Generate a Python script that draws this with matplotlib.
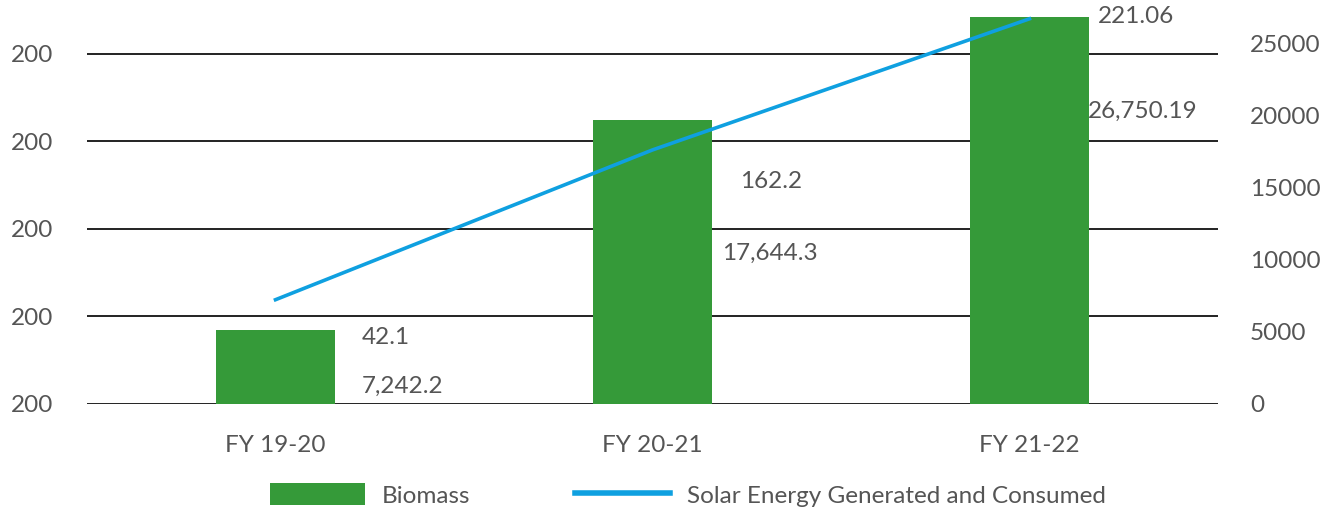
import matplotlib
matplotlib.use("Agg")
import matplotlib.pyplot as plt
from matplotlib.patches import Patch
from matplotlib.lines import Line2D

plt.rcParams['font.family'] = ['Lato', 'DejaVu Sans']

# Data
years = ["FY 19-20", "FY 20-21", "FY 21-22"]
biomass = [42.1, 162.2, 221.06]
solar = [7242.2, 17644.3, 26750.19]
biomass_labels = ["42.1", "162.2", "221.06"]
solar_labels = ["7,242.2", "17,644.3", "26,750.19"]
left_ticks = [0, 50, 100, 150, 200]
left_tick_labels = ["200", "200", "200", "200", "200"]
right_ticks = [0, 5000, 10000, 15000, 20000, 25000]

GREEN = "#359a39"
BLUE = "#0fa0e0"
TEXT = "#555555"
FS = 17.5

fig = plt.figure(figsize=(13.38, 5.13), dpi=100)
ax = fig.add_axes([87 / 1338, 109 / 513, 1131 / 1338, 396 / 513])
ax2 = ax.twinx()

x = list(range(len(years)))

# Biomass bars on the left axis
ax.bar(x, biomass, width=0.318, color=GREEN, zorder=3, clip_on=False)
ax.set_xlim(-0.5, 2.5)
ax.set_ylim(0, 226)
ax.set_yticks(left_ticks)
ax.set_yticklabels(left_tick_labels)
ax.yaxis.grid(True, color="#111111", linewidth=1.3, zorder=0)
ax.set_axisbelow(True)
ax.set_xticks(x)
ax.set_xticklabels(years)
ax.tick_params(axis="both", length=0, labelsize=FS, labelcolor=TEXT)
ax.tick_params(axis="y", pad=24)
ax.tick_params(axis="x", pad=22)

# Solar line on the right axis
ax2.plot(x, solar, color=BLUE, linewidth=2.6, zorder=4, clip_on=False)
ax2.set_ylim(0, 27500)
ax2.set_yticks(right_ticks)
ax2.tick_params(axis="y", length=0, labelsize=FS, labelcolor=TEXT, pad=23)

for a in (ax, ax2):
    for s in a.spines.values():
        s.set_visible(False)

# Value annotations (left-axis data coordinates)
bio_pos = [(0.229, 38), (1.232, 127), (2.182, 221)]
sol_pos = [(0.229, 10), (1.184, 86), (2.155, 167)]
for (px, py), t in zip(bio_pos, biomass_labels):
    ax.text(px, py, t, fontsize=FS, color=TEXT, ha="left", va="center", zorder=5)
for (px, py), t in zip(sol_pos, solar_labels):
    ax.text(px, py, t, fontsize=FS, color=TEXT, ha="left", va="center", zorder=5)

handles = [Patch(facecolor=GREEN, edgecolor="none"),
           Line2D([0], [0], color=BLUE, linewidth=4)]
fig.legend(handles, ["Biomass", "Solar Energy Generated and Consumed"],
           loc="center", bbox_to_anchor=(0.514, 0.035), ncol=2, frameon=False,
           fontsize=FS, labelcolor=TEXT, handlelength=3.9, handleheight=1.0,
           handletextpad=0.7, columnspacing=4.3)

fig.savefig("out.png", dpi=100)
